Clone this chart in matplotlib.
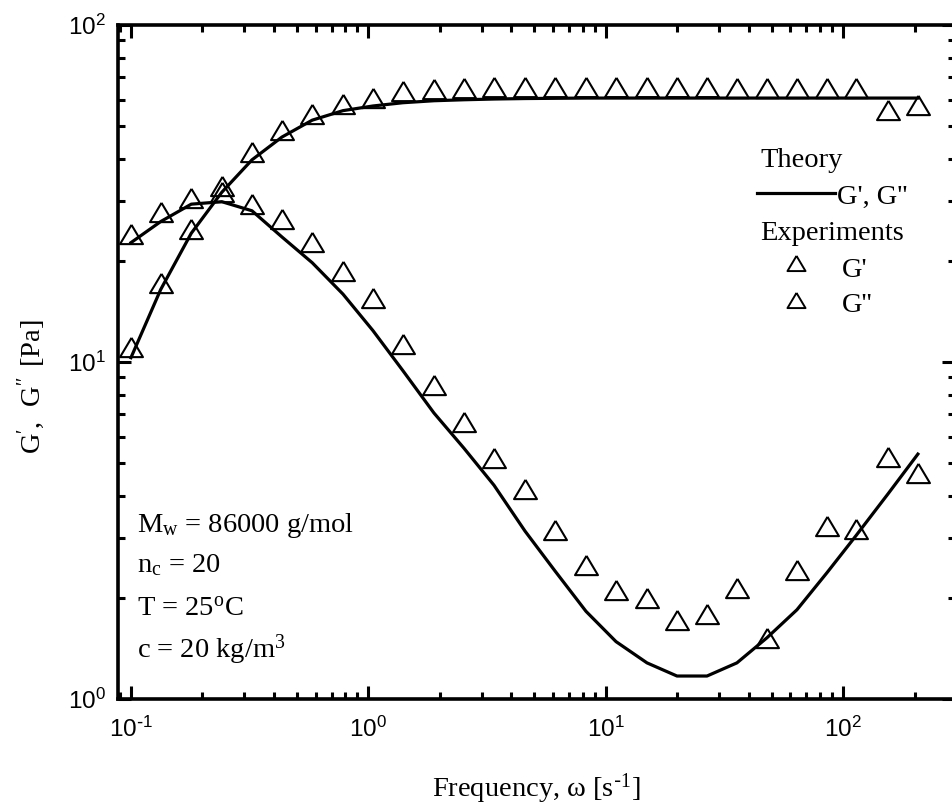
import numpy as np
import matplotlib.pyplot as plt
from matplotlib.ticker import NullFormatter

# frequencies [1/s] of the measured points (theory evaluated at same points)
freq = [0.1, 0.1334, 0.1795, 0.2415, 0.3235, 0.4325, 0.5805, 0.782, 1.045,
        1.399, 1.889, 2.527, 3.382, 4.57, 6.11, 8.26, 11.05, 14.92, 19.96,
        26.7, 35.7, 47.8, 63.9, 85.5, 113.2, 154.5, 206.5]

# experiments
gp_exp = [11.1, 17.1, 24.8, 33.3, 42.0, 48.8, 54.4, 58.3, 60.7, 63.7, 64.6,
          65.0, 65.3, 65.6, 65.6, 65.6, 65.4, 65.6, 65.5, 65.6, 65.2, 65.0,
          65.0, 65.0, 65.0, 55.9, 57.7]
gpp_exp = [24.0, 27.9, 30.7, 31.9, 29.4, 26.6, 22.7, 18.6, 15.5, 11.3, 8.54,
           6.63, 5.19, 4.20, 3.17, 2.50, 2.10, 1.99, 1.71, 1.79, 2.13, 1.515,
           2.41, 3.26, 3.19, 5.22, 4.68]

# theory
gp_theory = [10.3, 16.4, 24.1, 31.9, 39.8, 46.5, 52.2, 55.7, 57.5, 58.8, 59.6,
             60.0, 60.3, 60.5, 60.6, 60.7, 60.7, 60.7, 60.7, 60.7, 60.7, 60.7,
             60.7, 60.7, 60.7, 60.7, 60.7]
gpp_theory = [22.6, 26.1, 29.4, 29.9, 28.1, 23.5, 19.7, 15.9, 12.4, 9.42, 7.06,
              5.55, 4.31, 3.15, 2.40, 1.82, 1.48, 1.28, 1.17, 1.17, 1.28, 1.52,
              1.84, 2.37, 3.05, 4.06, 5.33]

xtick_vals = [0.1, 1, 10, 100]
xtick_labels = [r'$\mathregular{10^{\text{-}1}}$', r'$\mathregular{10^{0}}$',
                r'$\mathregular{10^{1}}$', r'$\mathregular{10^{2}}$']
ytick_vals = [1, 10, 100]
ytick_labels = [r'$\mathregular{10^{0}}$', r'$\mathregular{10^{1}}$',
                r'$\mathregular{10^{2}}$']

info_lines = [r'M$\mathregular{_w}$ = 86000 g/mol',
              r'n$\mathregular{_c}$ = 20',
              r'T = 25$\mathregular{^o}$C',
              r'c = 20 kg/m$\mathregular{^3}$']

plt.rcParams['font.family'] = ['Liberation Serif', 'DejaVu Serif']

fig = plt.figure(figsize=(9.52, 8.09), dpi=100)
ax = fig.add_axes([118 / 952, 110 / 809, 837 / 952, 674 / 809])
ax.set_xscale('log')
ax.set_yscale('log')
ax.set_xlim(0.0882, 296)
ax.set_ylim(1, 100)

# triangle marker, a bit wider than tall
tri = [(0, 0.84), (-1, -0.84), (1, -0.84), (0, 0.84)]

ax.plot(freq, gp_theory, color='black', lw=2.3, zorder=3)
ax.plot(freq, gpp_theory, color='black', lw=2.3, zorder=3)
ax.plot(freq, gp_exp, ls='none', marker=tri, ms=16.5, mfc='none',
        mec='black', mew=1.5, zorder=2)
ax.plot(freq, gpp_exp, ls='none', marker=tri, ms=16.5, mfc='none',
        mec='black', mew=1.5, zorder=2)

# axes styling
for sp in ax.spines.values():
    sp.set_linewidth(2.6)
ax.tick_params(which='both', direction='in', top=True, right=True, width=2.2)
ax.tick_params(which='major', length=9.5)
ax.tick_params(which='minor', length=5)
ax.tick_params(axis='x', which='major', pad=13)
ax.tick_params(axis='y', which='major', pad=9)

ax.set_xticks(xtick_vals, xtick_labels)
ax.set_yticks(ytick_vals, ytick_labels)
ax.xaxis.set_minor_formatter(NullFormatter())
ax.yaxis.set_minor_formatter(NullFormatter())
for lab in ax.get_xticklabels() + ax.get_yticklabels():
    lab.set_fontfamily('Liberation Sans')
    lab.set_fontsize(17.5)

ax.set_xlabel(r'Frequency, ω [s$\mathregular{^{\text{-}1}}$]', fontsize=20.5)
ax.xaxis.label.set_va('baseline')
ax.xaxis.set_label_coords(0.5, -0.1454)
ax.set_ylabel(r"$\mathregular{G',\ G''\ [Pa]}$", fontsize=20.5)
ax.yaxis.set_label_coords(-0.0852, 0.463)

# legend drawn by hand
fs = 20.5
ax.text(0.767, 0.790, 'Theory', transform=ax.transAxes, fontsize=fs, va='baseline')
ax.plot([0.7634, 0.8566], [0.7507, 0.7507], transform=ax.transAxes,
        color='black', lw=2.3, clip_on=False)
ax.text(0.8594, 0.7344, "G', G''", transform=ax.transAxes, fontsize=fs, va='baseline')
ax.text(0.767, 0.681, 'Experiments', transform=ax.transAxes, fontsize=fs, va='baseline')
ax.plot([0.810], [0.6469], transform=ax.transAxes, ls='none', marker=tri,
        ms=13, mfc='none', mec='black', mew=1.4)
ax.text(0.8646, 0.6266, "G'", transform=ax.transAxes, fontsize=fs, va='baseline')
ax.plot([0.810], [0.592], transform=ax.transAxes, ls='none', marker=tri,
        ms=13, mfc='none', mec='black', mew=1.4)
ax.text(0.8646, 0.5746, "G''", transform=ax.transAxes, fontsize=fs, va='baseline')

# sample info
info_y = [0.2473, 0.1889, 0.1236, 0.0619]
for txt, yy in zip(info_lines, info_y):
    ax.text(0.023, yy, txt, transform=ax.transAxes, fontsize=fs, va='baseline')

fig.savefig('out.png', dpi=100)
